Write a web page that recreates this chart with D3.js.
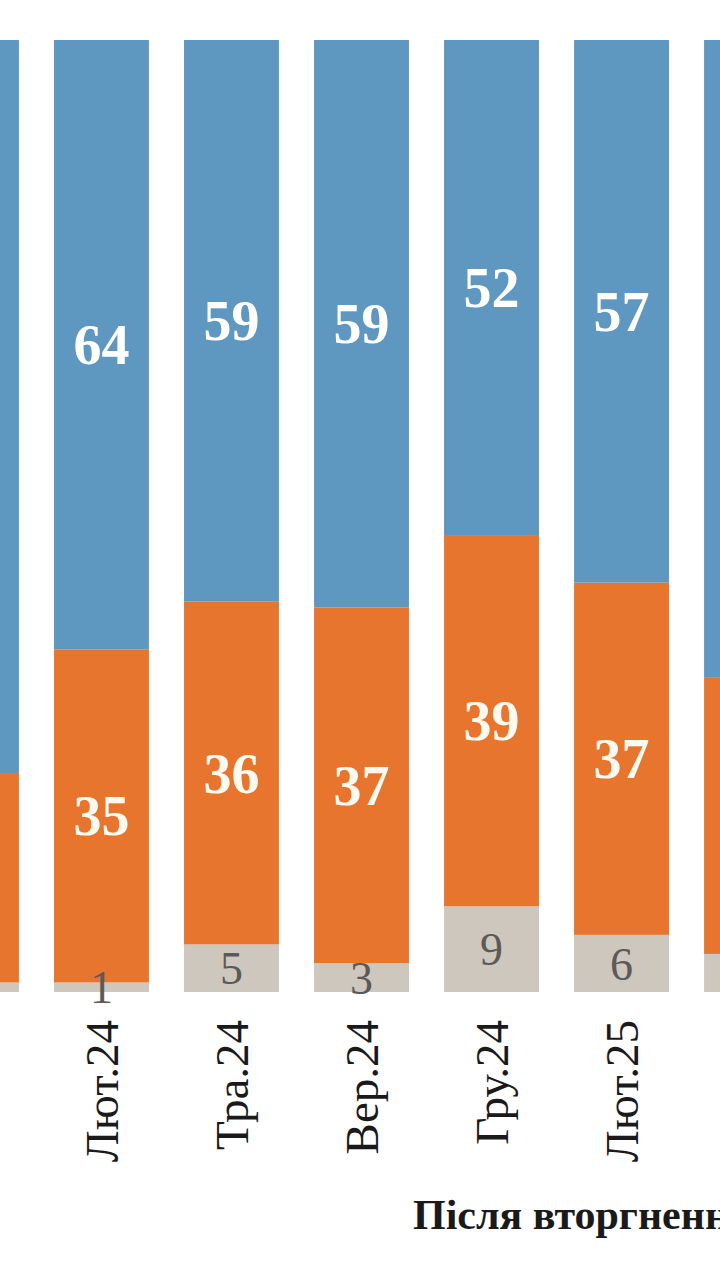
<!DOCTYPE html>
<html>
<head>
<meta charset="utf-8">
<script src="https://cdn.jsdelivr.net/npm/d3@7"></script>
<style>
  body { margin: 0; background: #ffffff; }
  svg { display: block; }
</style>
</head>
<body>
<div id="chart_area"></div>
<script>
// survey waves, left and right ones are cut by the frame
var categories = ["Гру.23", "Лют.24", "Тра.24", "Вер.24", "Гру.24", "Лют.25", "Тра.25"]
var series_keys = ["gray", "orange", "blue"]
var blue_values = [77, 64, 59, 59, 52, 57, 67]
var orange_values = [22, 35, 36, 37, 39, 37, 29]
var gray_values = [1, 1, 5, 3, 9, 6, 4]
var axis_title = "Після вторгнення"

var width = 720
var height = 1280
var colors = {blue: "#5e97c0", orange: "#e8752d", gray: "#cdc7bd"}
var label_colors = {blue: "#ffffff", orange: "#fffaf0", gray: "#5c5a58"}

var rows = categories.map(function(c, i) {
  return {cat: c, blue: blue_values[i], orange: orange_values[i], gray: gray_values[i]}
})

var stacked = d3.stack()
  .keys(series_keys)
  .offset(d3.stackOffsetExpand)(rows)

var svg = d3.select("#chart_area").append("svg")
  .attr("width", width)
  .attr("height", height)

var x = d3.scaleBand()
  .domain(categories)
  .range([-76, 799])
  .paddingInner(0.27)
  .paddingOuter(0)

var y = d3.scaleLinear()
  .domain([0, 1])
  .range([992, 40])

function in_view(cat) {
  var cx = x(cat) + x.bandwidth() / 2
  return cx > 0 && cx < width
}

var groups = svg.selectAll("g.layer")
  .data(stacked)
  .enter().append("g")
  .attr("class", "layer")
  .attr("fill", function(d) { return colors[d.key] })

groups.selectAll("rect")
  .data(function(d) { return d })
  .enter().append("rect")
  .attr("x", function(d) { return x(d.data.cat) })
  .attr("width", x.bandwidth())
  .attr("y", function(d) { return y(d[1]) })
  .attr("height", function(d) { return y(d[0]) - y(d[1]) })

// value labels in the middle of each piece
stacked.forEach(function(layer) {
  var is_gray = layer.key == "gray"
  svg.append("g").selectAll("text")
    .data(layer.filter(function(d) { return in_view(d.data.cat) }))
    .enter().append("text")
    .attr("x", function(d) { return x(d.data.cat) + x.bandwidth() / 2 })
    .attr("y", function(d) { return (y(d[0]) + y(d[1])) / 2 })
    .attr("dy", "0.35em")
    .attr("text-anchor", "middle")
    .attr("font-family", "Liberation Serif, serif")
    .attr("font-weight", is_gray ? "normal" : "bold")
    .attr("font-size", is_gray ? 46 : 56)
    .attr("fill", label_colors[layer.key])
    .text(function(d) { return d.data[layer.key] })
})

var x_axis = d3.axisBottom(x)
  .tickValues(categories.filter(in_view))
  .tickSize(0)
  .tickPadding(0)
var axis_g = svg.append("g")
  .attr("transform", "translate(0,1020)")
  .call(x_axis)
axis_g.select(".domain").remove()
axis_g.selectAll("text")
  .attr("font-family", "Liberation Serif, serif")
  .attr("font-size", 47)
  .attr("fill", "#1a1a1a")
  .attr("text-anchor", "end")
  .attr("y", 0)
  .attr("x", 0)
  .attr("dy", "0.35em")
  .attr("transform", "rotate(-90)")

svg.append("text")
  .attr("x", 413)
  .attr("y", 1229)
  .attr("font-family", "Liberation Serif, serif")
  .attr("font-weight", "bold")
  .attr("font-size", 42)
  .attr("fill", "#1a1a1a")
  .text(axis_title)
</script>
</body>
</html>
